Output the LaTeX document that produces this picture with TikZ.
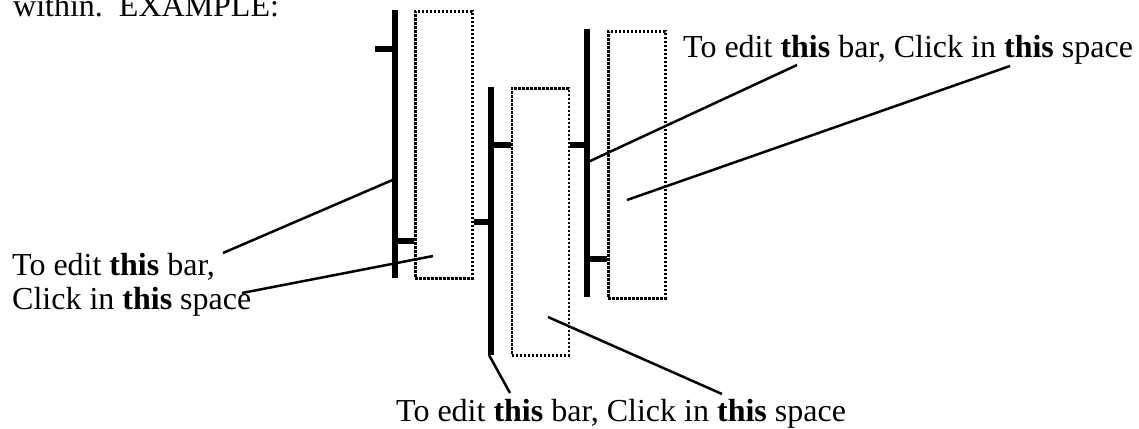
\documentclass[tikz,border=0pt]{standalone}
\usepackage{fontspec}
\setmainfont{Liberation Serif}
\usetikzlibrary{positioning,calc}
\newcommand\notefont{\fontsize{32}{36}\selectfont}

\begin{document}
\begin{tikzpicture}[x=1pt, y=-1pt, node distance=0pt,
    clickbox/.style={draw, line width=2.6pt, dash pattern=on 2.6pt off 1.4pt, minimum width=57pt, minimum height=267pt, inner sep=0pt, anchor=north west},
    barline/.style={line width=5.8pt},
    pointer/.style={line width=2.5pt},
    note/.style={font=\notefont, inner sep=0pt, anchor=base west}]
    \clip (0,0) rectangle (1139,428);

    % header text, cut at the top
    \node [note] (hdr) at (13,17) {within.\ \ EXAMPLE:};

    % click spaces
    \node [clickbox] (r1) at (414,10) {};
    \node [clickbox] (r2) at (510.5,87) {};
    \node [clickbox] (r3) at (607,30) {};

    % bars
    \draw [barline] (395,10) -- (395,278);
    \draw [barline] (375,49) -- (395,49);
    \draw [barline] (395,241) -- (r1.west |- 0,241);
    \draw [barline] (491,87) -- (491,355);
    \draw [barline] (r1.east |- 0,222) -- (491,222);
    \draw [barline] (491,145) -- (r2.west |- 0,145);
    \draw [barline] (587,29) -- (587,297);
    \draw [barline] (r2.east |- 0,145) -- (587,145);
    \draw [barline] (587,259) -- (r3.west |- 0,259);

    % labels
    \node [note] (lblL1) at (12,275) {To edit \textbf{this} bar,};
    \node [note] (lblL2) at (12,309) {Click in \textbf{this} space};
    \node [note] (lblT) at (683,57) {To edit \textbf{this} bar, Click in \textbf{this} space};
    \node [note] (lblB) at (396,421) {To edit \textbf{this} bar, Click in \textbf{this} space};

    % pointer ends
    \coordinate (bar1) at (392.5,180);
    \coordinate (bar2) at (489,355);
    \coordinate (bar3) at (588,162);
    \coordinate (in1) at (433,256);
    \coordinate (in2) at (548,317);
    \coordinate (in3) at (627,200);
    \coordinate (lblL1-p) at (223,253);
    \coordinate (lblL2-p) at (242,293);
    \coordinate (lblB-p1) at (510,393);
    \coordinate (lblB-p2) at (722,394);
    \coordinate (lblT-p1) at (797,65);
    \coordinate (lblT-p2) at (1010,66);

    % pointers
    \draw [pointer] (lblL1-p) -- (bar1);
    \draw [pointer] (lblL2-p) -- (in1);
    \draw [pointer] (lblB-p1) -- (bar2);
    \draw [pointer] (lblB-p2) -- (in2);
    \draw [pointer] (lblT-p1) -- (bar3);
    \draw [pointer] (lblT-p2) -- (in3);
\end{tikzpicture}
\end{document}
